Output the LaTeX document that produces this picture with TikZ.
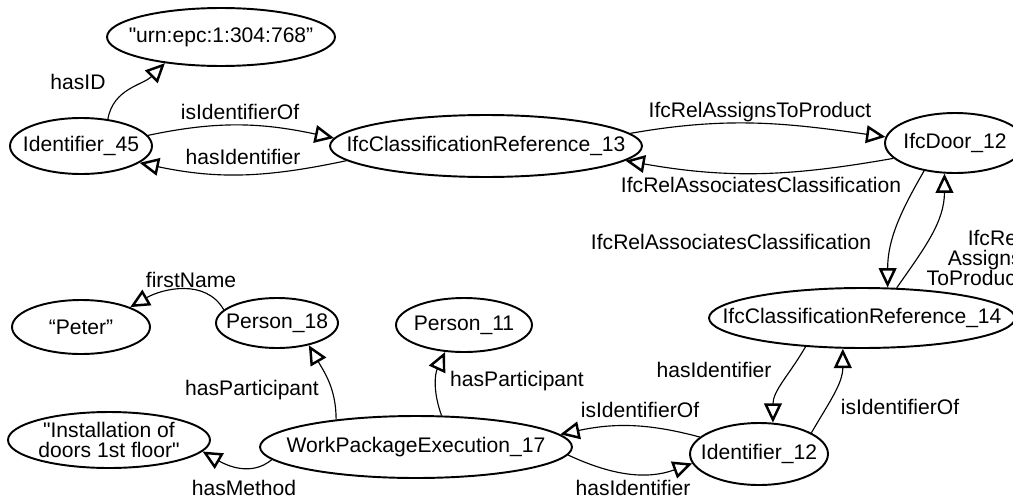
\documentclass[tikz,border=0pt]{standalone}
\usepackage{fontspec}
\setmainfont{Liberation Sans}[Ligatures=TeXOff]
\usetikzlibrary{shapes.geometric, arrows.meta}

\begin{document}
\begin{tikzpicture}[x=0.02cm, y=0.02cm, font=\fontsize{12}{11.5}\selectfont,
    entity/.style={draw, ellipse, line width=1.1pt, inner xsep=-0.65cm, inner ysep=0pt},
    rel/.style={line width=0.65pt, -{Triangle[open, length=11pt, width=10pt, line width=1.4pt]}},
    lbl/.style={inner sep=0pt}]
    \useasboundingbox (0,0) rectangle (1013,498);

    % identifier and classification of the door
    \node[entity, minimum width=4.56cm, minimum height=1.16cm] (epc) at (221,461) {"urn:epc:1:304:768”};
    \node[entity, minimum width=2.84cm, minimum height=1.12cm] (id45) at (81,352) {Identifier\_45};
    \node[entity, minimum width=6.24cm, minimum height=1.24cm] (cr13) at (486,352) {IfcClassificationReference\_13};
    \node[entity, minimum width=2.8cm, minimum height=1.2cm] (door) at (955,355) {IfcDoor\_12};
    \node[entity, minimum width=6.12cm, minimum height=1.2cm] (cr14) at (862,180) {IfcClassificationReference\_14};
    \node[entity, minimum width=2.76cm, minimum height=1.24cm] (id12) at (759,44) {Identifier\_12};

    % work package and participants
    \node[entity, minimum width=6.24cm, minimum height=1.24cm] (wpe) at (416,51) {WorkPackageExecution\_17};
    \node[entity, minimum width=4.04cm, minimum height=1.12cm, align=center] (method) at (109,58) {"Installation of\\doors 1st floor"};
    \node[entity, minimum width=2.76cm, minimum height=1.08cm] (peter) at (81,171) {“Peter”};
    \node[entity, minimum width=2.44cm, minimum height=1.0cm] (p18) at (277,175) {Person\_18};
    \node[entity, minimum width=2.72cm, minimum height=1.08cm] (p11) at (464,173) {Person\_11};

    \draw[rel] (id45.45) to[out=80, in=225] (epc.205);
    \draw[rel] (id45.9) to[out=12, in=168] (cr13.177);
    \draw[rel] (cr13.186) to[out=192, in=-12] (id45.344);
    \draw[rel] (cr13.5) to[out=10, in=172] (door.175);
    \draw[rel] (door.194) to[out=190, in=-10] (cr13.354);
    \draw[rel] (door.222) to[out=240, in=90] (cr14.50);
    \draw[rel] (cr14.41) to[out=55, in=270] (door.251);
    \draw[rel] (cr14.207) to[out=240, in=90] (id12.66);
    \draw[rel] (id12.22) to[out=60, in=270] (cr14.238);
    \draw[rel] (id12.164) to[out=165, in=12] (wpe.5);
    \draw[rel] (wpe.357) to[out=-25, in=200] (id12.188);
    \draw[rel] (wpe.161) to[out=90, in=-60] (p18.325);
    \draw[rel] (wpe.51) to[out=110, in=245] (p11.235);
    \draw[rel] (wpe.185) to[out=220, in=-30] (method.353);
    \draw[rel] (p18.166) to[out=120, in=30] (peter.22);

    % property names
    \node[lbl] (l-hasid) at (78,416) {hasID};
    \node[lbl] (l-isid45) at (240,386) {isIdentifierOf};
    \node[lbl] (l-hasid45) at (243,341) {hasIdentifier};
    \node[lbl] (l-assigns) at (760,386) {IfcRelAssignsToProduct};
    \node[lbl] (l-assoc) at (761,313) {IfcRelAssociatesClassification};
    \node[lbl] (l-assoc14) at (731,256) {IfcRelAssociatesClassification};
    \node[lbl, align=right, anchor=east] (l-assigns14) at (1022,240) {IfcRel\\Assigns\\ToProduct};
    \node[lbl] (l-hasid12) at (714,128) {hasIdentifier};
    \node[lbl] (l-isid12) at (900,91) {isIdentifierOf};
    \node[lbl] (l-isidwpe) at (640,88) {isIdentifierOf};
    \node[lbl] (l-hasidwpe) at (633,10) {hasIdentifier};
    \node[lbl] (l-part18) at (252,108) {hasParticipant};
    \node[lbl] (l-part11) at (517,117) {hasParticipant};
    \node[lbl] (l-method) at (244,10) {hasMethod};
    \node[lbl] (l-name) at (191,218) {firstName};
\end{tikzpicture}
\end{document}
